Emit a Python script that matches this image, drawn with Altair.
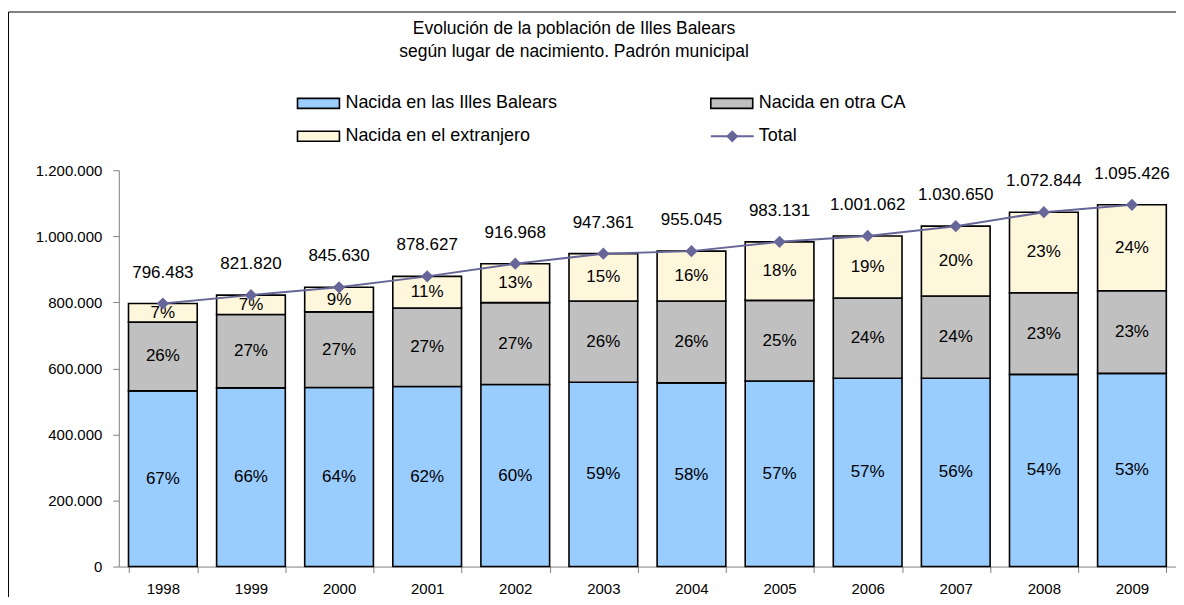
import altair as alt
import pandas as pd

years = ["1998", "1999", "2000", "2001", "2002", "2003", "2004", "2005", "2006", "2007", "2008", "2009"]
nacida_baleares = [532000, 541000, 542000, 545000, 551000, 558000, 556000, 562000, 570000, 570000, 582000, 585000]
nacida_otra_ca = [208000, 222000, 229000, 238000, 248000, 246000, 248000, 244000, 243000, 249000, 247000, 250000]
nacida_extranjero = [56483, 58820, 74630, 95627, 117968, 143361, 151045, 177131, 188062, 211650, 243844, 260426]
totales = [796483, 821820, 845630, 878627, 916968, 947361, 955045, 983131, 1001062, 1030650, 1072844, 1095426]
total_labels = ["796.483", "821.820", "845.630", "878.627", "916.968", "947.361", "955.045",
                "983.131", "1.001.062", "1.030.650", "1.072.844", "1.095.426"]
pct_baleares = ["67%", "66%", "64%", "62%", "60%", "59%", "58%", "57%", "57%", "56%", "54%", "53%"]
pct_otra_ca = ["26%", "27%", "27%", "27%", "27%", "26%", "26%", "25%", "24%", "24%", "23%", "23%"]
pct_extranjero = ["7%", "7%", "9%", "11%", "13%", "15%", "16%", "18%", "19%", "20%", "23%", "24%"]
y_ticks = [0, 200000, 400000, 600000, 800000, 1000000, 1200000]

groups = ["Nacida en las Illes Balears", "Nacida en otra CA", "Nacida en el extranjero"]
colors = ["#99CCFF", "#C0C0C0", "#FFF7DC"]
title_text = "Evolución de la población de Illes Balears\nsegún lugar de nacimiento. Padrón municipal"

FONT = "Liberation Sans"
LINE_COLOR = "#666699"

rows = []
for i, y in enumerate(years):
    for k, (vals, pcts) in enumerate([(nacida_baleares, pct_baleares),
                                       (nacida_otra_ca, pct_otra_ca),
                                       (nacida_extranjero, pct_extranjero)]):
        rows.append({"year": y, "grupo": groups[k], "valor": vals[i], "pct": pcts[i], "orden": k})
df = pd.DataFrame(rows)
tot = pd.DataFrame({"year": years, "total": totales, "label": total_labels})

xscale = alt.Scale(domain=years, paddingInner=0.22, paddingOuter=0.11)
yscale = alt.Scale(domain=[0, 1200000], nice=False)
xaxis = alt.Axis(title=None, labelAngle=0, tickBand="extent", domainColor="#808080",
                 tickColor="#808080", tickSize=6, labelPadding=9, labelFont=FONT,
                 labelFontSize=15, labelColor="black", grid=False)
yaxis = alt.Axis(title=None, values=y_ticks,
                 labelExpr="replace(format(datum.value, ','), regexp(',', 'g'), '.')",
                 domainColor="#808080", tickColor="#808080", tickSize=6, labelPadding=11,
                 labelFont=FONT, labelFontSize=15, labelColor="black", grid=False)


def X():
    return alt.X("year:N", scale=xscale, sort=years, axis=xaxis, title=None)


bars = alt.Chart(df).mark_bar(stroke="black", strokeWidth=1.6).encode(
    x=X(),
    y=alt.Y("valor:Q", stack="zero", scale=yscale, axis=yaxis, title=None),
    color=alt.Color("grupo:N", scale=alt.Scale(domain=groups, range=colors), legend=None),
    order=alt.Order("orden:Q"),
)

pct_text = alt.Chart(df).transform_stack(
    stack="valor", groupby=["year"], as_=["y0", "y1"], sort=[alt.SortField("orden")]
).transform_calculate(mid="(datum.y0 + datum.y1) / 2").mark_text(
    font=FONT, fontSize=17, color="black", baseline="middle"
).encode(
    x=X(),
    y=alt.Y("mid:Q", scale=yscale, axis=yaxis, title=None),
    text="pct:N",
)

line = alt.Chart(tot).mark_line(color=LINE_COLOR, strokeWidth=2).encode(
    x=X(),
    y=alt.Y("total:Q", scale=yscale, axis=yaxis, title=None),
)
pts = alt.Chart(tot).mark_point(shape="diamond", filled=True, color=LINE_COLOR, size=150, opacity=1).encode(
    x=X(),
    y=alt.Y("total:Q", scale=yscale, axis=yaxis, title=None),
)
tot_text = alt.Chart(tot).mark_text(font=FONT, fontSize=17, color="black", dy=-31, baseline="middle").encode(
    x=X(),
    y=alt.Y("total:Q", scale=yscale, axis=yaxis, title=None),
    text="label:N",
)

one = pd.DataFrame({"t": [title_text]})
title = alt.Chart(one).mark_text(font=FONT, fontSize=17.5, color="black", lineBreak="\n",
                                 lineHeight=23, baseline="middle", align="center").encode(
    x=alt.value(456), y=alt.value(-141), text="t:N")

frame_top = alt.Chart(one).mark_rule(color="black", strokeWidth=1).encode(
    x=alt.value(-110.5), x2=alt.value(1100), y=alt.value(-158.5))
frame_left = alt.Chart(one).mark_rule(color="black", strokeWidth=1).encode(
    x=alt.value(-110.5), y=alt.value(-158.5), y2=alt.value(500))

legend_layers = []
leg_pos = [(179, -67), (593, -67), (179, -34)]
for k, g in enumerate(groups):
    lx, ly = leg_pos[k]
    ldf = pd.DataFrame({"t": [g]})
    legend_layers.append(alt.Chart(ldf).mark_rect(fill=colors[k], stroke="black", strokeWidth=1.6).encode(
        x=alt.value(lx), x2=alt.value(lx + 42), y=alt.value(ly - 5), y2=alt.value(ly + 5)))
    legend_layers.append(alt.Chart(ldf).mark_text(font=FONT, fontSize=18, align="left", baseline="middle",
                                                  color="black").encode(
        x=alt.value(lx + 48), y=alt.value(ly), text="t:N"))
tdf = pd.DataFrame({"t": ["Total"]})
legend_layers.append(alt.Chart(tdf).mark_rule(color=LINE_COLOR, strokeWidth=2).encode(
    x=alt.value(593), x2=alt.value(636), y=alt.value(-34)))
legend_layers.append(alt.Chart(tdf).mark_point(shape="diamond", filled=True, color=LINE_COLOR, size=150,
                                               opacity=1).encode(x=alt.value(614.5), y=alt.value(-34)))
legend_layers.append(alt.Chart(tdf).mark_text(font=FONT, fontSize=18, align="left", baseline="middle",
                                              color="black").encode(
    x=alt.value(641), y=alt.value(-34), text="t:N"))

chart = alt.layer(bars, pct_text, line, pts, tot_text, title, frame_top, frame_left, *legend_layers).properties(
    width=1059, height=397,
    padding={"left": 111, "top": 162, "right": 0, "bottom": 30},
    autosize=alt.AutoSizeParams(type="none"),
    background="white",
).configure_view(stroke=None)

chart.save("out.html", embed_options={"renderer": "svg", "actions": False})
